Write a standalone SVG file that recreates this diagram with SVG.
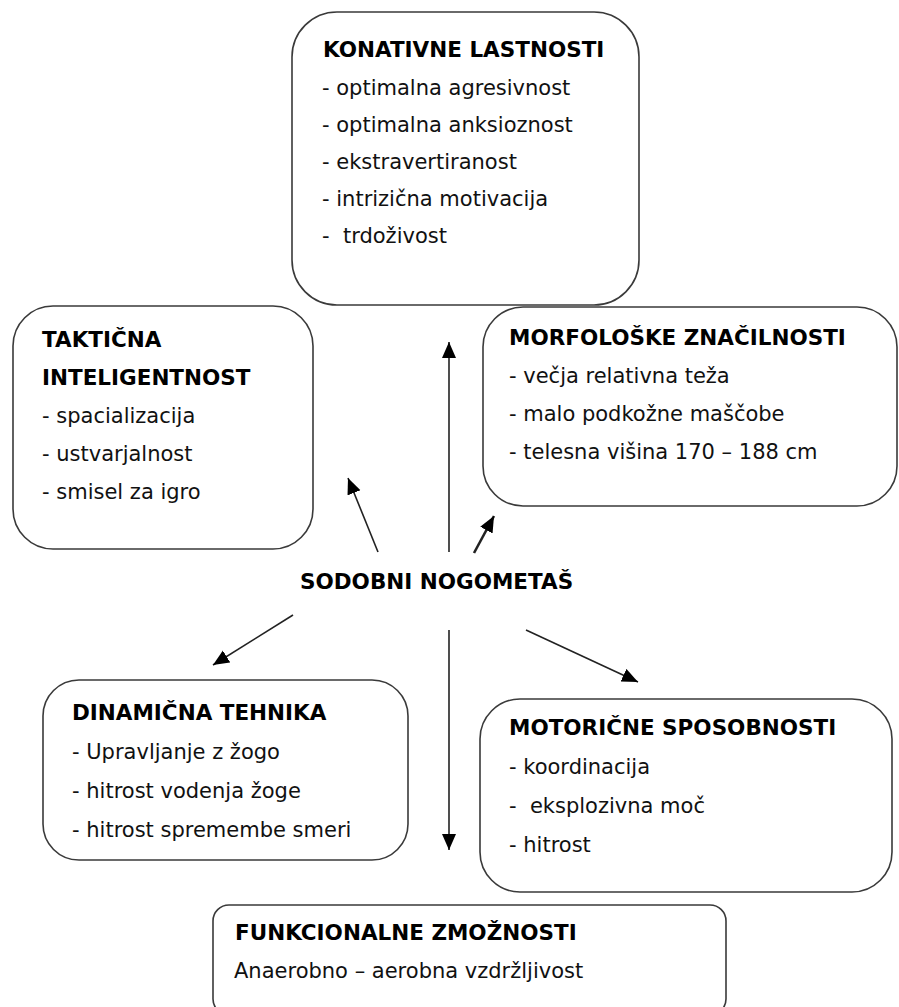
<svg xmlns="http://www.w3.org/2000/svg" width="899" height="1007" viewBox="0 0 899 1007">
<defs>
<marker id="ah" markerUnits="userSpaceOnUse" markerWidth="17" markerHeight="15" refX="16" refY="7" orient="auto">
<path d="M0,0 L16,7 L0,14 z" fill="#000"/>
</marker>
</defs>
<style>
.box{fill:#fff;stroke:#3a3a3a;stroke-width:1.6}
.t{font-family:"DejaVu Sans",Verdana,sans-serif;font-size:21px;fill:#111}
.h{font-family:"DejaVu Sans",Verdana,sans-serif;font-size:21.5px;font-weight:bold;fill:#000}
.c{stroke:#222;stroke-width:1.6;fill:none;marker-end:url(#ah)}
</style>
<rect width="899" height="1007" fill="#fff"/>
<g id="konativne">
<rect class="box" x="292" y="12" width="347" height="293" rx="45" ry="45"/>
<text class="h" x="323" y="57">KONATIVNE LASTNOSTI</text>
<text class="t" x="322" y="95">- optimalna agresivnost</text>
<text class="t" x="322" y="132">- optimalna anksioznost</text>
<text class="t" x="322" y="169">- ekstravertiranost</text>
<text class="t" x="322" y="206">- intrizična motivacija</text>
<text class="t" x="322" y="243" xml:space="preserve">-  trdoživost</text>
</g>
<g id="takticna">
<rect class="box" x="13" y="306" width="300" height="243" rx="40" ry="40"/>
<text class="h" x="42" y="347">TAKTIČNA</text>
<text class="h" x="42" y="385">INTELIGENTNOST</text>
<text class="t" x="42" y="423">- spacializacija</text>
<text class="t" x="42" y="461">- ustvarjalnost</text>
<text class="t" x="42" y="499">- smisel za igro</text>
</g>
<g id="morfoloske">
<rect class="box" x="483" y="307" width="414" height="199" rx="40" ry="40"/>
<text class="h" x="509" y="345">MORFOLOŠKE ZNAČILNOSTI</text>
<text class="t" x="509" y="383">- večja relativna teža</text>
<text class="t" x="509" y="421">- malo podkožne maščobe</text>
<text class="t" x="509" y="459">- telesna višina 170 – 188 cm</text>
</g>
<g id="center">
<text class="h" x="300" y="589">SODOBNI NOGOMETAŠ</text>
</g>
<g id="dinamicna">
<rect class="box" x="43" y="680" width="365" height="180" rx="36" ry="36"/>
<text class="h" x="72" y="720">DINAMIČNA TEHNIKA</text>
<text class="t" x="72" y="759">- Upravljanje z žogo</text>
<text class="t" x="72" y="798">- hitrost vodenja žoge</text>
<text class="t" x="72" y="837">- hitrost spremembe smeri</text>
</g>
<g id="motoricne">
<rect class="box" x="480" y="699" width="412" height="193" rx="40" ry="40"/>
<text class="h" x="509" y="735">MOTORIČNE SPOSOBNOSTI</text>
<text class="t" x="509" y="774">- koordinacija</text>
<text class="t" x="509" y="813" xml:space="preserve">-  eksplozivna moč</text>
<text class="t" x="509" y="852">- hitrost</text>
</g>
<g id="funkcionalne">
<rect class="box" x="213" y="905" width="513" height="110" rx="16" ry="16"/>
<text class="h" x="235" y="940">FUNKCIONALNE ZMOŽNOSTI</text>
<text class="t" x="234" y="978">Anaerobno – aerobna vzdržljivost</text>
</g>
<g id="connectors">
<line class="c" x1="449" y1="552" x2="449" y2="342"/>
<line class="c" x1="378" y1="552" x2="348" y2="478"/>
<line class="c" x1="474" y1="553" x2="494" y2="516" style="stroke-width:2.6"/>
<line class="c" x1="293" y1="615" x2="213" y2="665"/>
<line class="c" x1="449" y1="630" x2="449" y2="850"/>
<line class="c" x1="526" y1="630" x2="638" y2="682"/>
</g>
</svg>
